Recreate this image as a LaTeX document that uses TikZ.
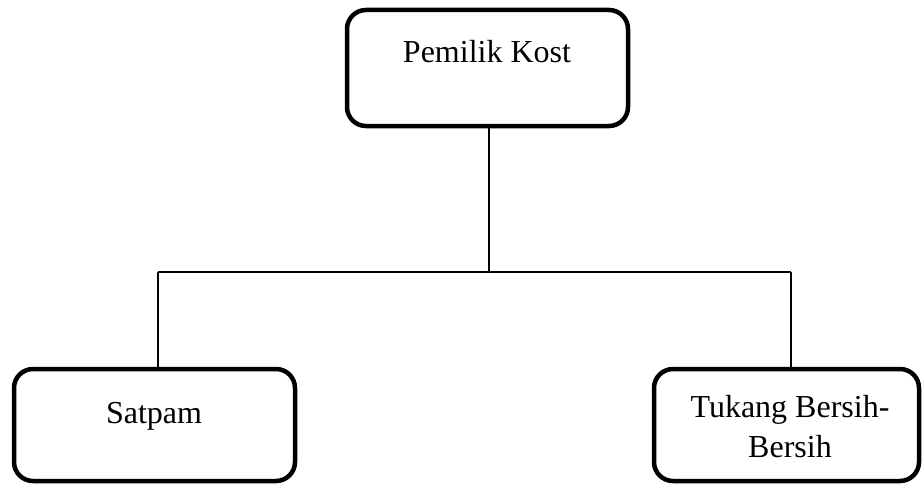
\documentclass[tikz,border=0pt]{standalone}
\usepackage{fontspec}
\setmainfont{Liberation Serif}
\begin{document}
\begin{tikzpicture}[x=1pt,y=-1pt,
  box/.style={draw=black,line width=4.5pt,rounded corners=19pt,inner sep=0pt,fill=white},
  lbl/.style={font=\fontsize{32}{40}\selectfont,anchor=base,inner sep=0pt,align=center},
  conn/.style={draw=black,line width=1.3pt}]
\useasboundingbox[fill=white] (0,0) rectangle (923,487);
\node[box,minimum width=281pt,minimum height=116pt] (top) at (487.5,68) {};
\node[box,minimum width=281pt,minimum height=112pt] (left) at (154.5,425) {};
\node[box,minimum width=265pt,minimum height=112pt] (right) at (786.5,425) {};
\node[lbl] (ttop) at (487,63) {Pemilik Kost};
\node[lbl] (tleft) at (154,423) {Satpam};
\node[lbl,anchor=base] (tright) at (790,457) {Tukang Bersih-\\Bersih};
\coordinate (j) at (489,272);
\coordinate (jl) at (158,272);
\coordinate (jr) at (791,272);
\draw[conn] ([xshift=1.5pt]top.south) -- (j);
\draw[conn] (jl) -- (jr);
\draw[conn] (jl) -- (jl |- left.north);
\draw[conn] (jr) -- (jr |- right.north);
\end{tikzpicture}
\end{document}
